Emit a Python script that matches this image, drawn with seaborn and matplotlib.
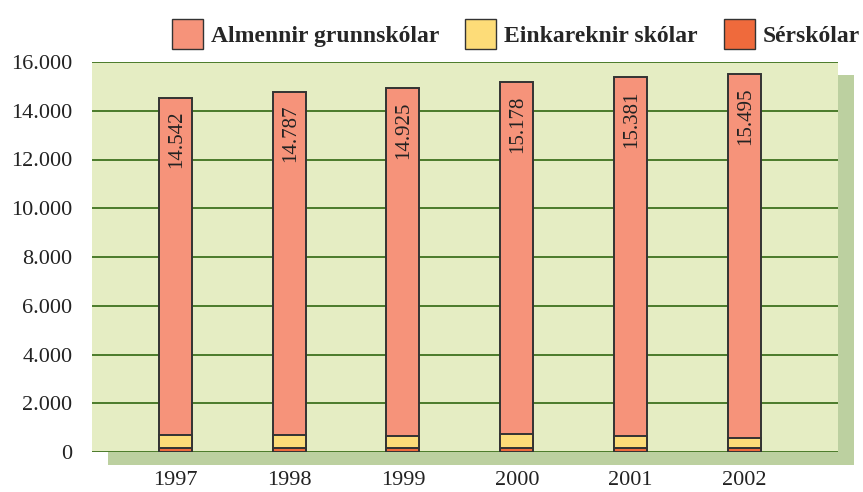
import numpy as np
import pandas as pd
import matplotlib.pyplot as plt
import seaborn as sns
from matplotlib.patches import Rectangle, Patch

years = ['1997', '1998', '1999', '2000', '2001', '2002']
totals = [14542, 14787, 14925, 15178, 15381, 15495]
serskolar = [170, 165, 160, 160, 155, 150]
einkareknir = [520, 520, 510, 560, 510, 440]
total_labels = ['14.542', '14.787', '14.925', '15.178', '15.381', '15.495']

df = pd.DataFrame({'year': years, 'total': totals,
                   'ser': serskolar, 'einka': einkareknir})
df['ser_einka'] = df['ser'] + df['einka']

sns.set_theme(style='white')
plt.rcParams['font.family'] = ['Liberation Serif', 'DejaVu Serif']

W, H = 863, 492
fig = plt.figure(figsize=(W / 100, H / 100), dpi=100)
left, right, top, bottom = 92, 838, 62, 452
ax = fig.add_axes([left / W, 1 - bottom / H, (right - left) / W, (bottom - top) / H])

# drop shadow behind the plot area
fig.patches.append(Rectangle(((left + 16) / W, 1 - (bottom + 13) / H),
                             (right - left) / W, (bottom - top) / H,
                             transform=fig.transFigure, facecolor='#bcd0a0',
                             edgecolor='none', zorder=0))
ax.set_facecolor('#e5edc3')
ax.set_zorder(1)

c_alm = '#f6937a'
c_eink = '#fddc78'
c_ser = '#ef6a3c'
w = 0.29
sns.barplot(data=df, x='year', y='total', color=c_alm, width=w, saturation=1,
            edgecolor='#333333', linewidth=1.4, ax=ax, zorder=3)
sns.barplot(data=df, x='year', y='ser_einka', color=c_eink, width=w, saturation=1,
            edgecolor='#333333', linewidth=1.4, ax=ax, zorder=3)
sns.barplot(data=df, x='year', y='ser', color=c_ser, width=w, saturation=1,
            edgecolor='#333333', linewidth=1.4, ax=ax, zorder=3)

for i, (t, lab) in enumerate(zip(totals, total_labels)):
    ax.text(i + 0.01, t - 550, lab, rotation=90, ha='center', va='top',
            fontsize=15, color='#222222', zorder=5)

ax.set_xlim(-0.73, 5.82)
ax.set_ylim(0, 16000)
yt = np.arange(0, 16001, 2000)
ax.set_yticks(yt)
ax.set_yticklabels([f'{v:,}'.replace(',', '.') for v in yt])
for v in yt:
    ax.axhline(v, color='#4a7a2a', linewidth=1.4, zorder=2)
for s in ax.spines.values():
    s.set_visible(False)
ax.tick_params(axis='both', length=0, labelsize=16, colors='#222222')
ax.tick_params(axis='y', pad=14)
ax.tick_params(axis='x', pad=14)
ax.set_xlabel('')
ax.set_ylabel('')

handles = [Patch(facecolor=c_alm, edgecolor='#333333', label='Almennir grunnskólar'),
           Patch(facecolor=c_eink, edgecolor='#333333', label='Einkareknir skólar'),
           Patch(facecolor=c_ser, edgecolor='#333333', label='Sérskólar')]
fig.legend(handles=handles, loc='upper left', bbox_to_anchor=(158 / W, 0.99), ncol=3,
           frameon=False, prop={'weight': 'bold', 'size': 17},
           handlelength=1.3, handleheight=1.6, handletextpad=0.35,
           columnspacing=1.1, borderaxespad=0.2)

fig.savefig('out.png', dpi=100)
